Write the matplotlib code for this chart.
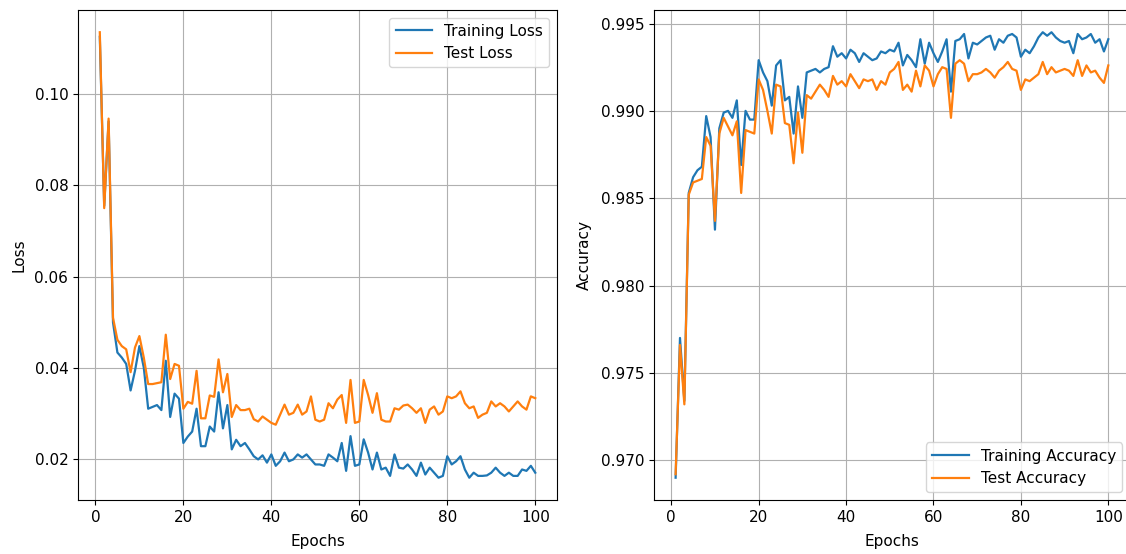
import numpy as np
import matplotlib
matplotlib.use("Agg")
import matplotlib.pyplot as plt

# Slightly larger text than the default, as in the reference
plt.rcParams['font.size'] = 11
plt.rcParams['lines.linewidth'] = 1.6

# Epoch numbers
epochs = list(range(1, 101))

# Loss values
train_loss = [
    0.1125, 0.0755, 0.0940, 0.0500, 0.0434, 0.0423, 0.0409, 0.0351, 0.0394, 0.0448,
    0.0401, 0.0311, 0.0315, 0.0319, 0.0308, 0.0416, 0.0293, 0.0344, 0.0333, 0.0236,
    0.0250, 0.0261, 0.0311, 0.0229, 0.0229, 0.0272, 0.0261, 0.0347, 0.0268, 0.0319,
    0.0222, 0.0243, 0.0229, 0.0236, 0.0222, 0.0207, 0.0200, 0.0209, 0.0193, 0.0211,
    0.0186, 0.0196, 0.0215, 0.0196, 0.0200, 0.0211, 0.0204, 0.0211, 0.0200, 0.0189,
    0.0189, 0.0186, 0.0211, 0.0204, 0.0196, 0.0236, 0.0175, 0.0251, 0.0186, 0.0189,
    0.0244, 0.0215, 0.0178, 0.0215, 0.0178, 0.0182, 0.0164, 0.0211, 0.0182, 0.0180,
    0.0189, 0.0178, 0.0164, 0.0193, 0.0167, 0.0182, 0.0171, 0.0160, 0.0164, 0.0207,
    0.0189, 0.0196, 0.0207, 0.0178, 0.0160, 0.0171, 0.0164, 0.0164, 0.0165, 0.0171,
    0.0182, 0.0171, 0.0164, 0.0171, 0.0164, 0.0164, 0.0178, 0.0175, 0.0186, 0.0171,
]
test_loss = [
    0.1135, 0.0750, 0.0946, 0.0510, 0.0462, 0.0448, 0.0441, 0.0391, 0.0445, 0.0470,
    0.0423, 0.0365, 0.0365, 0.0367, 0.0369, 0.0473, 0.0376, 0.0409, 0.0405, 0.0311,
    0.0326, 0.0322, 0.0394, 0.0290, 0.0290, 0.0340, 0.0337, 0.0419, 0.0347, 0.0387,
    0.0293, 0.0319, 0.0308, 0.0308, 0.0311, 0.0288, 0.0283, 0.0294, 0.0287, 0.0280,
    0.0276, 0.0298, 0.0320, 0.0298, 0.0302, 0.0320, 0.0298, 0.0305, 0.0338, 0.0287,
    0.0283, 0.0287, 0.0323, 0.0312, 0.0331, 0.0341, 0.0280, 0.0374, 0.0280, 0.0283,
    0.0374, 0.0341, 0.0302, 0.0345, 0.0287, 0.0283, 0.0283, 0.0312, 0.0309, 0.0318,
    0.0320, 0.0312, 0.0302, 0.0312, 0.0280, 0.0309, 0.0316, 0.0298, 0.0305, 0.0338,
    0.0334, 0.0338, 0.0349, 0.0323, 0.0312, 0.0316, 0.0291, 0.0298, 0.0302, 0.0327,
    0.0316, 0.0323, 0.0316, 0.0305, 0.0316, 0.0327, 0.0316, 0.0309, 0.0338, 0.0334,
]

# Accuracy values
train_acc = [
    0.9690, 0.9770, 0.9734, 0.9853, 0.9862, 0.9866, 0.9868, 0.9897, 0.9885, 0.9832,
    0.9890, 0.9899, 0.9900, 0.9896, 0.9906, 0.9869, 0.9900, 0.9895, 0.9895, 0.9929,
    0.9922, 0.9917, 0.9903, 0.9926, 0.9929, 0.9906, 0.9908, 0.9887, 0.9914, 0.9896,
    0.9922, 0.9923, 0.9924, 0.9922, 0.9924, 0.9925, 0.9937, 0.9931, 0.9933, 0.9930,
    0.9935, 0.9933, 0.9928, 0.9933, 0.9931, 0.9929, 0.9930, 0.9934, 0.9933, 0.9935,
    0.9934, 0.9939, 0.9926, 0.9932, 0.9929, 0.9925, 0.9941, 0.9927, 0.9939, 0.9933,
    0.9928, 0.9934, 0.9941, 0.9911, 0.9940, 0.9941, 0.9944, 0.9930, 0.9939, 0.9938,
    0.9940, 0.9942, 0.9943, 0.9935, 0.9941, 0.9939, 0.9943, 0.9944, 0.9942, 0.9931,
    0.9935, 0.9933, 0.9937, 0.9942, 0.9945, 0.9943, 0.9945, 0.9942, 0.9940, 0.9939,
    0.9940, 0.9933, 0.9944, 0.9941, 0.9942, 0.9944, 0.9939, 0.9941, 0.9934, 0.9941,
]
test_acc = [
    0.9692, 0.9766, 0.9732, 0.9852, 0.9859, 0.9860, 0.9861, 0.9885, 0.9880, 0.9837,
    0.9887, 0.9896, 0.9891, 0.9886, 0.9894, 0.9853, 0.9889, 0.9888, 0.9887, 0.9918,
    0.9912, 0.9900, 0.9887, 0.9915, 0.9914, 0.9893, 0.9892, 0.9870, 0.9899, 0.9876,
    0.9909, 0.9907, 0.9911, 0.9915, 0.9912, 0.9908, 0.9920, 0.9915, 0.9917, 0.9914,
    0.9921, 0.9917, 0.9913, 0.9918, 0.9917, 0.9918, 0.9912, 0.9917, 0.9915, 0.9922,
    0.9924, 0.9928, 0.9912, 0.9915, 0.9911, 0.9923, 0.9914, 0.9926, 0.9923, 0.9914,
    0.9921, 0.9925, 0.9924, 0.9896, 0.9927, 0.9929, 0.9927, 0.9917, 0.9921, 0.9921,
    0.9922, 0.9924, 0.9922, 0.9919, 0.9923, 0.9925, 0.9928, 0.9924, 0.9923, 0.9912,
    0.9918, 0.9917, 0.9919, 0.9921, 0.9928, 0.9921, 0.9925, 0.9922, 0.9923, 0.9924,
    0.9923, 0.9920, 0.9929, 0.9920, 0.9926, 0.9922, 0.9923, 0.9919, 0.9916, 0.9926,
]

fig = plt.figure(figsize=(11.26, 5.54), dpi=100)

# Loss subplot
ax1 = fig.add_axes([0.0693, 0.0975, 0.4254, 0.8845])
ax1.plot(epochs, train_loss, label='Training Loss')
ax1.plot(epochs, test_loss, label='Test Loss')
ax1.set_xlabel('Epochs', labelpad=7)
ax1.set_ylabel('Loss', labelpad=6)
ax1.legend(loc='upper right', handlelength=2.4)
ax1.grid(True)

# Accuracy subplot
ax2 = fig.add_axes([0.5808, 0.0975, 0.4227, 0.8845])
ax2.plot(epochs, train_acc, label='Training Accuracy')
ax2.plot(epochs, test_acc, label='Test Accuracy')
ax2.set_xlabel('Epochs', labelpad=7)
ax2.set_ylabel('Accuracy', labelpad=6)
ax2.legend(loc='lower right', handlelength=2.4)
ax2.grid(True)

fig.savefig('out.png', dpi=100)
plt.close(fig)
